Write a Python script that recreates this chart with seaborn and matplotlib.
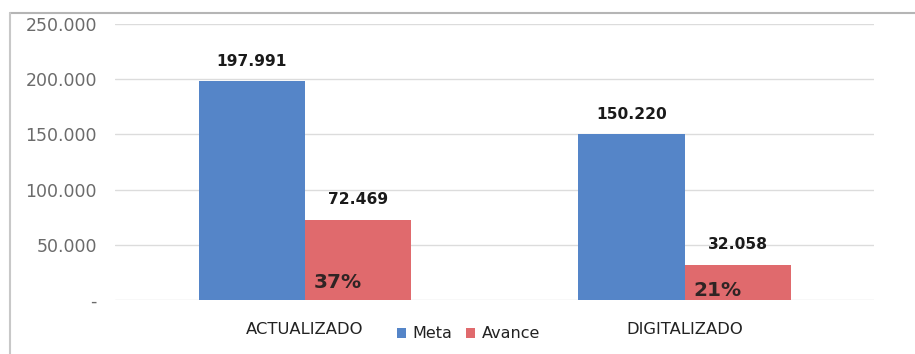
import matplotlib
matplotlib.use("Agg")
import matplotlib.pyplot as plt
from matplotlib.lines import Line2D
import seaborn as sns
import pandas as pd

# Data
categories = ["ACTUALIZADO", "DIGITALIZADO"]
meta = [197991, 150220]
avance = [72469, 32058]
series_names = ["Meta", "Avance"]
y_ticks = [0, 50000, 100000, 150000, 200000, 250000]

colors = {"Meta": "#5585C8", "Avance": "#E06A6D"}


def fmt_miles(v):
    if v == 0:
        return "-"
    return f"{v:,.0f}".replace(",", ".")


df = pd.DataFrame({
    "categoria": categories * 2,
    "serie": [series_names[0]] * len(categories) + [series_names[1]] * len(categories),
    "valor": meta + avance,
})

sns.set_theme(style="white")
plt.rcParams["font.family"] = ["DejaVu Sans"]

fig = plt.figure(figsize=(9.15, 3.54), dpi=100)
ax = fig.add_axes([0.1257, 0.1525, 0.83, 0.78])

sns.barplot(data=df, x="categoria", y="valor", hue="serie", palette=colors,
            width=0.56, saturation=1, linewidth=0, ax=ax, legend=True)

ax.set_ylim(0, 250000)
ax.set_yticks(y_ticks)
ax.set_yticklabels([fmt_miles(t) for t in y_ticks])
ax.set_xlim(-0.5, len(categories) - 0.5)
ax.set_xlabel("")
ax.set_ylabel("")
ax.yaxis.grid(True, color="#dcdcdc", linewidth=1)
ax.set_axisbelow(True)
for s in ax.spines.values():
    s.set_visible(False)
ax.tick_params(axis="y", length=0, pad=13, labelsize=12.5, labelcolor="#6b6b6b")
ax.tick_params(axis="x", length=0, pad=16, labelsize=11.8, labelcolor="#222222")

# Value labels above each bar
for cont in ax.containers:
    vals = [b.get_height() for b in cont]
    ax.bar_label(cont, labels=[fmt_miles(v) for v in vals], padding=9,
                 fontsize=11.2, fontweight="bold", color="#1a1a1a")

# Percent of progress inside the red bars
avance_bars = ax.containers[1]
meta_bars = ax.containers[0]
pct_heights = [15500, 9000]
for b_m, b_a, h in zip(meta_bars, avance_bars, pct_heights):
    pct = b_a.get_height() / b_m.get_height() * 100
    ax.text(b_a.get_x() + b_a.get_width() * 0.08, h, f"{pct:.0f}%",
            ha="left", va="center", fontsize=14.5, fontweight="bold",
            color="#302424")

# Legend between the two category labels
handles, labels = ax.get_legend_handles_labels()
ax.legend(handles, labels, loc="center", bbox_to_anchor=(0.512, 1 - 334 / 354),
          bbox_transform=fig.transFigure, ncol=2, frameon=False,
          fontsize=11.5, handlelength=0.55, handleheight=0.55, handletextpad=0.4,
          columnspacing=0.9, labelcolor="#222222")

# Chart-area frame (top and left edges)
fig.add_artist(Line2D([10 / 915, 1.0], [1 - 13 / 354, 1 - 13 / 354],
                      transform=fig.transFigure, color="#b5b5b5", linewidth=1.5))
fig.add_artist(Line2D([10 / 915, 10 / 915], [0.0, 1 - 13 / 354],
                      transform=fig.transFigure, color="#c8c8c8", linewidth=1.5))

fig.savefig("out.png", dpi=100, facecolor="white")
